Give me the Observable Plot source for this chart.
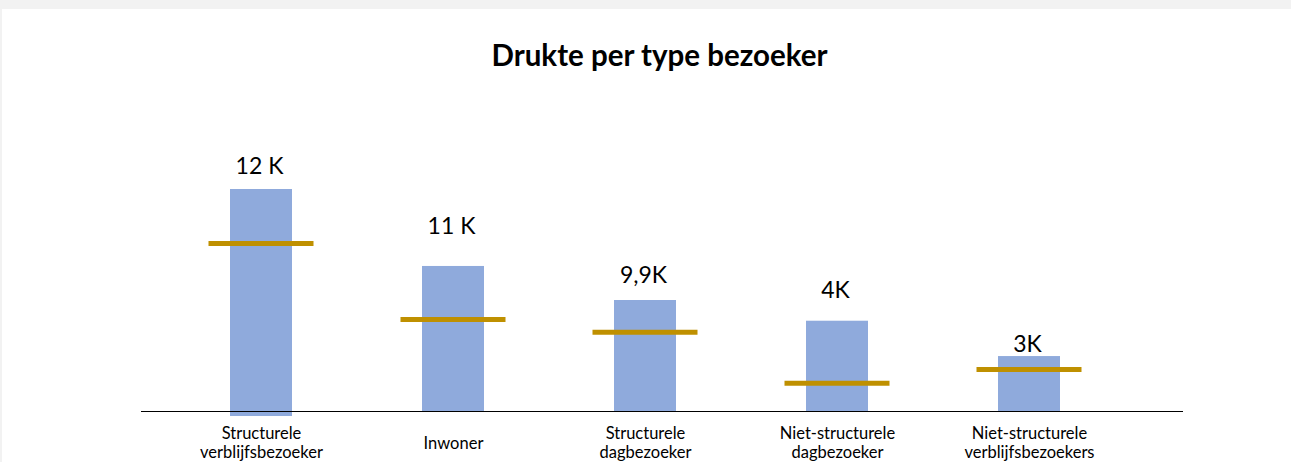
<!DOCTYPE html>
<html>
<head>
<meta charset="utf-8">
<script src="https://cdn.jsdelivr.net/npm/d3@7"></script>
<script src="https://cdn.jsdelivr.net/npm/@observablehq/plot@0.6"></script>
<style>
  html, body { margin: 0; padding: 0; background: #f2f2f2; width: 1291px; height: 462px; overflow: hidden; }
  #panel { position: absolute; left: 2px; top: 9px; width: 1289px; height: 453px; background: #fff; overflow: hidden; }
  #title { position: absolute; top: 28px; left: 0; width: 1289px; padding-left: 26px; box-sizing: border-box; text-align: center;
           font-family: Lato, sans-serif; font-weight: bold; font-size: 29.5px; line-height: 1.2; color: #000; }
  #chart { position: absolute; top: 91px; left: 0; }
</style>
</head>
<body>
<div id="panel">
  <div id="title">Drukte per type bezoeker</div>
  <div id="chart"></div>
</div>
<script>
// Categories
const categories = ["Structurele verblijfsbezoeker", "Inwoner", "Structurele dagbezoeker", "Niet-structurele dagbezoeker", "Niet-structurele verblijfsbezoekers"];
const tickLabels = ["Structurele\nverblijfsbezoeker", "Inwoner", "Structurele\ndagbezoeker", "Niet-structurele\ndagbezoeker", "Niet-structurele\nverblijfsbezoekers"];
// Bar values (relative units)
const barValues = [12.0, 7.84, 6.0, 4.88, 2.97];
const barBase = [-0.27, 0, 0, 0, 0];
// Gold marker values
const markerValues = [9.08, 4.97, 4.29, 1.53, 2.27];
// Value labels and where they sit (same units)
const valueLabels = ["12 K", "11 K", "9,9K", "4K", "3K"];
const labelAt = [12.86, 9.57, 6.92, 6.11, 3.24];

const data = categories.map((c, i) => ({
  cat: c, base: barBase[i], value: barValues[i], marker: markerValues[i], label: valueLabels[i], labelY: labelAt[i]
}));

const chart = Plot.plot({
  width: 1289,
  height: 362,
  marginLeft: 139,
  marginRight: 108,
  marginTop: 89,
  marginBottom: 51,
  style: { fontFamily: "Lato, sans-serif", background: "transparent", overflow: "visible" },
  x: { type: "band", domain: categories, range: [162.1, 1124.6], paddingInner: 0.677, paddingOuter: 0.3385, axis: null, label: null },
  y: { domain: [0, 12], axis: null },
  marks: [
    Plot.barY(data, { x: "cat", y1: "base", y2: "value", fill: "#8faadc" }),
    Plot.ruleY([0], { stroke: "#000", strokeWidth: 1.2 }),
    Plot.tickY(data, { x: "cat", y: "marker", stroke: "#bf9000", strokeWidth: 5, insetLeft: -21.5, insetRight: -21.5 }),
    Plot.text(data, { x: "cat", y: "labelY", text: "label", fontSize: 23, fill: "#000", lineAnchor: "bottom", dx: -2 }),
    Plot.axisX({ domain: categories, label: null, tickSize: 0, tickPadding: 31, lineAnchor: "middle", lineHeight: 1.15, fontSize: 16.5, fill: "#000",
                 tickFormat: (d) => tickLabels[categories.indexOf(d)] })
  ]
});
document.getElementById("chart").appendChild(chart);
</script>
</body>
</html>
